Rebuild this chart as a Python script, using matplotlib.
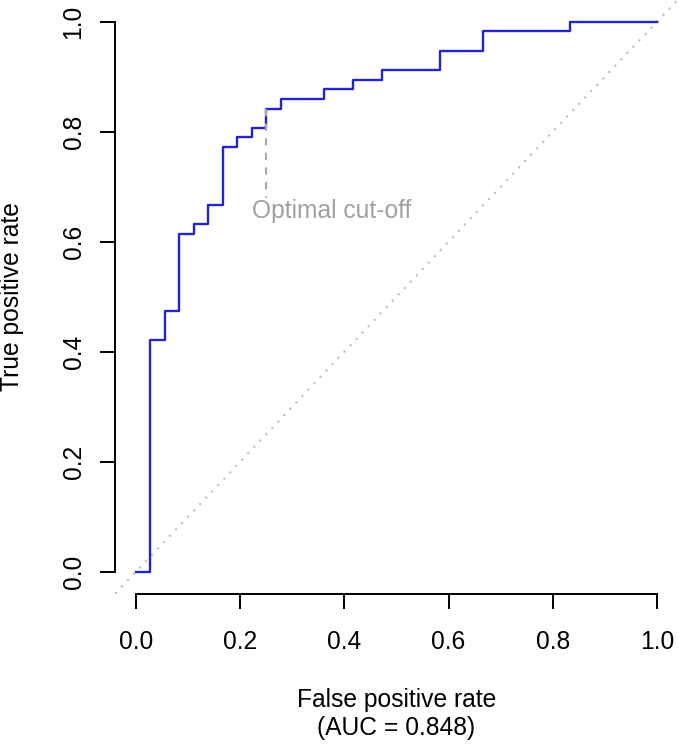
import matplotlib
matplotlib.use("Agg")
import matplotlib.pyplot as plt

# ROC curve data (step points)
fpr = [0.0000, 0.0278, 0.0556, 0.0833, 0.1111, 0.1389, 0.1667, 0.1944, 0.2222,
       0.2500, 0.2778, 0.3611, 0.4167, 0.4722, 0.5833, 0.6667, 0.8333, 1.0000]
tpr = [0.0000, 0.4211, 0.4737, 0.6140, 0.6316, 0.6667, 0.7719, 0.7895, 0.8070,
       0.8421, 0.8596, 0.8772, 0.8947, 0.9123, 0.9474, 0.9825, 1.0000, 1.0000]

cutoff_fpr = 0.25
cutoff_tpr = 0.8421
cutoff_end = 0.68
cutoff_label = "Optimal cut-off"
auc = 0.848
ticks = [0.0, 0.2, 0.4, 0.6, 0.8, 1.0]
tick_labels = ["0.0", "0.2", "0.4", "0.6", "0.8", "1.0"]

plt.rcParams['font.family'] = ['Liberation Sans', 'DejaVu Sans']
FS = 17.7
W, H = 679, 744
fig = plt.figure(figsize=(W / 100, H / 100), dpi=100)
left_px, right_px = 115.16, 677.84
top_px, bottom_px = -0.3, 593.7
ax = fig.add_axes([left_px / W, 1 - bottom_px / H,
                   (right_px - left_px) / W, (bottom_px - top_px) / H])
ax.set_xlim(-0.04, 1.04)
ax.set_ylim(-0.04, 1.04)

# diagonal reference
ax.axline((0, 0), (1, 1), color='#bebebe', lw=1.5, linestyle=(0, (1, 3.2)), zorder=1)
# ROC curve
ax.plot(fpr, tpr, drawstyle='steps-post', color='#2424cc', lw=1.7, zorder=3)
# optimal cut-off
ax.plot([cutoff_fpr, cutoff_fpr], [cutoff_tpr, cutoff_end], color='#a9a9a9',
        lw=1.5, linestyle=(0, (3.5, 3.5)), zorder=4)
ax.text(0.3747, 0.643, cutoff_label, color='#a0a0a0', fontsize=FS,
        ha='center', va='baseline')

for s in ['top', 'right']:
    ax.spines[s].set_visible(False)
for s in ['bottom', 'left']:
    ax.spines[s].set_bounds(0, 1)
    ax.spines[s].set_linewidth(1.4)
ax.set_xticks(ticks)
ax.set_xticklabels(tick_labels)
ax.set_yticks(ticks)
ax.set_yticklabels(tick_labels, rotation=90, va='center')
ax.tick_params(axis='both', length=10.8, width=1.4, labelsize=FS)
ax.tick_params(axis='x', pad=15.5)
ax.tick_params(axis='y', pad=10.5)

fig.text(396.5 / W, 1 - 707 / H, "False positive rate", fontsize=FS,
         ha='center', va='baseline')
fig.text(396.5 / W, 1 - 735 / H, "(AUC = %.3f)" % auc, fontsize=FS,
         ha='center', va='baseline')
fig.text(12 / W, 1 - 297 / H, "True positive rate", fontsize=FS,
         ha='center', va='center', rotation=90)

fig.savefig("out.png", dpi=100)
